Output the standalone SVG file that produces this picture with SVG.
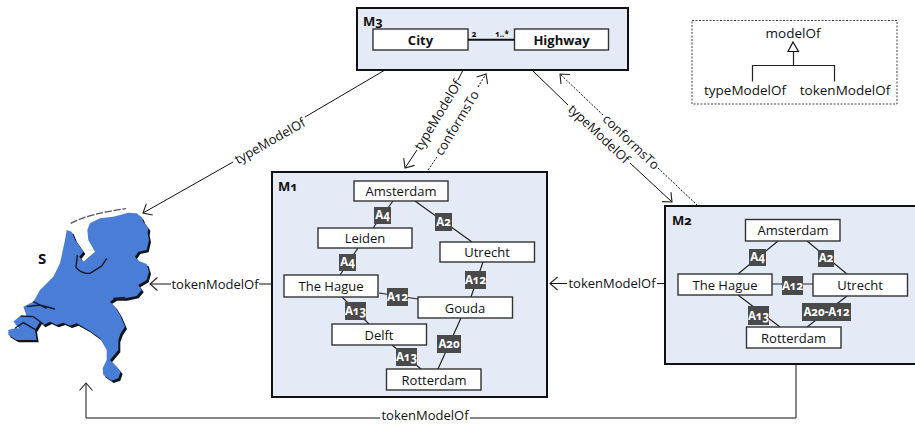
<svg xmlns="http://www.w3.org/2000/svg" width="915" height="424" viewBox="0 0 915 424">
<style>
text{font-family:"Open Sans","Liberation Sans",sans-serif;font-variant-numeric:oldstyle-nums;fill:#111}
.panel{fill:#e4ebf6;stroke:#111;stroke-width:2}
.box{fill:#fff;stroke:#333;stroke-width:1.4}
.nt{font-size:13px;text-anchor:middle}
.bt{font-size:13px;font-weight:700;text-anchor:middle}
.title{font-size:13px;font-weight:700}
.badge{fill:#4a4a4a}
.bl{font-size:11.5px;font-weight:700;fill:#fff;text-anchor:middle}
.e{stroke:#222;stroke-width:1.2;fill:none}
.c{stroke:#111;stroke-width:1;fill:none}
.a{marker-end:url(#open)}
.d{stroke-dasharray:2 1.5}
.cl{font-size:13px;text-anchor:middle}
</style>
<defs>
<marker id="open" markerUnits="userSpaceOnUse" markerWidth="16" markerHeight="16" refX="12" refY="8" orient="auto" viewBox="0 0 16 16"><path d="M4.500,1.500 L12,8 L4.500,14.500" fill="none" stroke="#222" stroke-width="1.1"/></marker>
<filter id="blur" x="-10%" y="-10%" width="120%" height="120%"><feGaussianBlur stdDeviation="1.2"/></filter>
<path id="nlshape" d="M270,100 L300,85 340,80 385,68 410,70 425,82 430,95 445,115 443,130 447,150 440,180 415,185 405,200 415,212 440,222 447,245 440,270 415,285 425,300 410,318 375,325 345,325 330,335 345,350 360,375 375,410 362,430 355,450 355,480 330,510 345,525 362,545 355,565 335,572 310,555 308,535 320,510 320,480 300,445 265,420 230,400 210,407 190,398 170,405 150,395 130,405 120,395 105,420 110,450 80,450 50,450 25,435 25,420 45,415 60,415 40,395 60,378 80,378 70,350 100,335 120,300 160,260 180,220 195,150 200,120 215,125 225,150 250,185 238,200 250,215 285,185 265,150 262,120Z"/>
</defs>

<g id="connectors">
<path class="c" d="M385,70 L305,117"/><path class="c a" d="M233,162 L143,213"/>
<text class="cl" transform="translate(270,141) rotate(-29.7)" y="4.500">typeModelOf</text>
<path class="c" d="M463,70 L458,80"/><path class="c a" d="M417,150 L405,168"/>
<text class="cl" transform="translate(438,115) rotate(-59)" y="4.500">typeModelOf</text>
<path class="c d" d="M428,170 L437,157"/><path class="c d a" d="M478,87 L486,74"/>
<text class="cl" transform="translate(457,123) rotate(-59)" y="4.500">conformsTo</text>
<path class="c" d="M532,70 L568,105"/><path class="c a" d="M630,163 L672,202"/>
<text class="cl" transform="translate(599,134) rotate(43.4)" y="4.500">typeModelOf</text>
<path class="c d a" d="M603,115 L560,74"/><path class="c d" d="M658,168 L697,205"/>
<text class="cl" transform="translate(631,142) rotate(44)" y="4.500">conformsTo</text>
<path class="c a" d="M171,284 L150,284"/><path class="c" d="M259,284 L272,284"/>
<text class="cl" x="215" y="288.500">tokenModelOf</text>
<path class="c a" d="M567,283.500 L550,283.500"/><path class="c" d="M657,283.500 L665,283.500"/>
<text class="cl" x="612" y="288">tokenModelOf</text>
<path class="c" d="M796,364 L796,418 L470,418"/><path class="c a" d="M380,418 L86,418 L86,383"/>
<text class="cl" x="425" y="420">tokenModelOf</text>
</g>

<g id="S">
<g transform="translate(0,190) scale(.3333)">
<use href="#nlshape" filter="url(#blur)" fill="#10131c" transform="translate(6,7)"/>
<use href="#nlshape" fill="#4a7dd6"/>
<path d="M232,195 L228,232 Q245,252 270,250 L305,228 320,205 295,190 250,222Z" fill="#4a7dd6"/>
<path fill="none" stroke="#10131c" stroke-width="4" d="M232,195 L228,232 Q245,252 270,250 L305,228 320,205"/>
<path fill="none" stroke="#14192a" stroke-width="4" d="M80,350 L120,345 L165,357 M62,378 L100,380 L130,402 M45,415 L70,398 L105,418 M100,335 L140,355 M340,325 L375,322"/>
<path fill="none" stroke="#556" stroke-width="4" stroke-dasharray="22 5" d="M212,100 Q270,70 378,56"/>
</g>
<text class="title" x="38" y="264" style="font-size:15px">S</text>
</g>

<g id="M3">
<rect class="panel" x="357" y="8" width="271" height="62"/>
<text class="title" x="363" y="26">M3</text>
<rect class="box" x="373" y="29" width="95" height="21"/>
<rect class="box" x="514.500" y="29" width="94" height="21"/>
<path d="M468,39.700 H514.500" stroke="#111" stroke-width="2"/>
<text class="bt" x="420.500" y="44.500">City</text>
<text class="bt" x="561.500" y="44.500">Highway</text>
<text x="474" y="37" style="font-size:8px;font-weight:700;text-anchor:middle">2</text>
<text x="502" y="37" style="font-size:8px;font-weight:700;text-anchor:middle">1..*</text>
</g>

<g id="legend">
<rect x="692" y="20.500" width="205" height="83.500" fill="none" stroke="#444" stroke-width="1" stroke-dasharray="2 1.500"/>
<text class="cl" x="793" y="38" style="font-size:13.500px">modelOf</text>
<path d="M793,42 L788,51.500 H798.500 Z" fill="#fff" stroke="#111" stroke-width="1.200"/>
<path d="M793.500,51.500 V65.500 M752.500,81.500 V65.500 H834.500 V81.500" fill="none" stroke="#222" stroke-width="1.200"/>
<text class="cl" x="745" y="95" style="font-size:13.500px">typeModelOf</text>
<text class="cl" x="845" y="95" style="font-size:13.500px">tokenModelOf</text>
</g>

<g id="M1">
<rect class="panel" x="272" y="172" width="275" height="225"/>
<text class="title" x="278" y="191">M1</text>
<path class="e" d="M393,201 L373,228 M415,201 L472,242 M358,248 L340,275 M483,262 L471,297 M379,293 L418,299 M342,297 L369,324 M392,345 L421,369 M461,318 L438,369"/>
<rect class="box" x="354" y="181" width="94" height="20"/><text class="nt" x="401" y="196">Amsterdam</text>
<rect class="box" x="318" y="228" width="94" height="20"/><text class="nt" x="365" y="243">Leiden</text>
<rect class="box" x="440" y="242" width="94.500" height="20"/><text class="nt" x="487" y="257">Utrecht</text>
<rect class="box" x="284" y="275" width="94" height="22"/><text class="nt" x="331" y="290.500">The Hague</text>
<rect class="box" x="418" y="297" width="94.500" height="21"/><text class="nt" x="465" y="312.500">Gouda</text>
<rect class="box" x="332" y="324" width="94.500" height="21"/><text class="nt" x="379" y="339.500">Delft</text>
<rect class="box" x="386.500" y="369" width="94.500" height="21"/><text class="nt" x="434" y="384.500">Rotterdam</text>
<rect class="badge" x="374" y="207" width="17" height="17"/><text class="bl" x="382.500" y="219">A4</text>
<rect class="badge" x="435" y="213" width="17" height="18"/><text class="bl" x="443.500" y="226">A2</text>
<rect class="badge" x="339" y="254" width="17" height="17"/><text class="bl" x="347.500" y="266">A4</text>
<rect class="badge" x="465" y="271" width="21" height="18"/><text class="bl" x="475.500" y="284">A12</text>
<rect class="badge" x="387" y="288" width="21" height="18"/><text class="bl" x="397.500" y="301">A12</text>
<rect class="badge" x="345" y="302" width="21" height="18"/><text class="bl" x="355.500" y="315">A13</text>
<rect class="badge" x="437" y="335" width="24" height="18"/><text class="bl" x="449" y="348">A20</text>
<rect class="badge" x="396" y="348" width="21" height="18"/><text class="bl" x="406.500" y="361">A13</text>
</g>

<g id="M2">
<rect class="panel" x="665" y="206" width="252" height="158"/>
<text class="title" x="672" y="225">M2</text>
<path class="e" d="M778,241 L738,274 M807,241 L847,274 M772,284 H813 M738,295 L780,327 M847,296 L807,327"/>
<rect class="box" x="745.500" y="219.500" width="94.500" height="21.500"/><text class="nt" x="793" y="235">Amsterdam</text>
<rect class="box" x="678" y="274" width="94" height="21"/><text class="nt" x="725" y="289.500">The Hague</text>
<rect class="box" x="813" y="274" width="94.500" height="22"/><text class="nt" x="860" y="289.500">Utrecht</text>
<rect class="box" x="746.500" y="327" width="94.500" height="21"/><text class="nt" x="793.500" y="342.500">Rotterdam</text>
<rect class="badge" x="749" y="249" width="17" height="17"/><text class="bl" x="757.500" y="261">A4</text>
<rect class="badge" x="818" y="250" width="16" height="17"/><text class="bl" x="826" y="262">A2</text>
<rect class="badge" x="782" y="276" width="21" height="19"/><text class="bl" x="792.500" y="289.500">A12</text>
<rect class="badge" x="748" y="306" width="21" height="19"/><text class="bl" x="758.500" y="319.500">A13</text>
<rect class="badge" x="802" y="303" width="49" height="18"/><text class="bl" x="826.500" y="316">A20-A12</text>
</g>
</svg>
